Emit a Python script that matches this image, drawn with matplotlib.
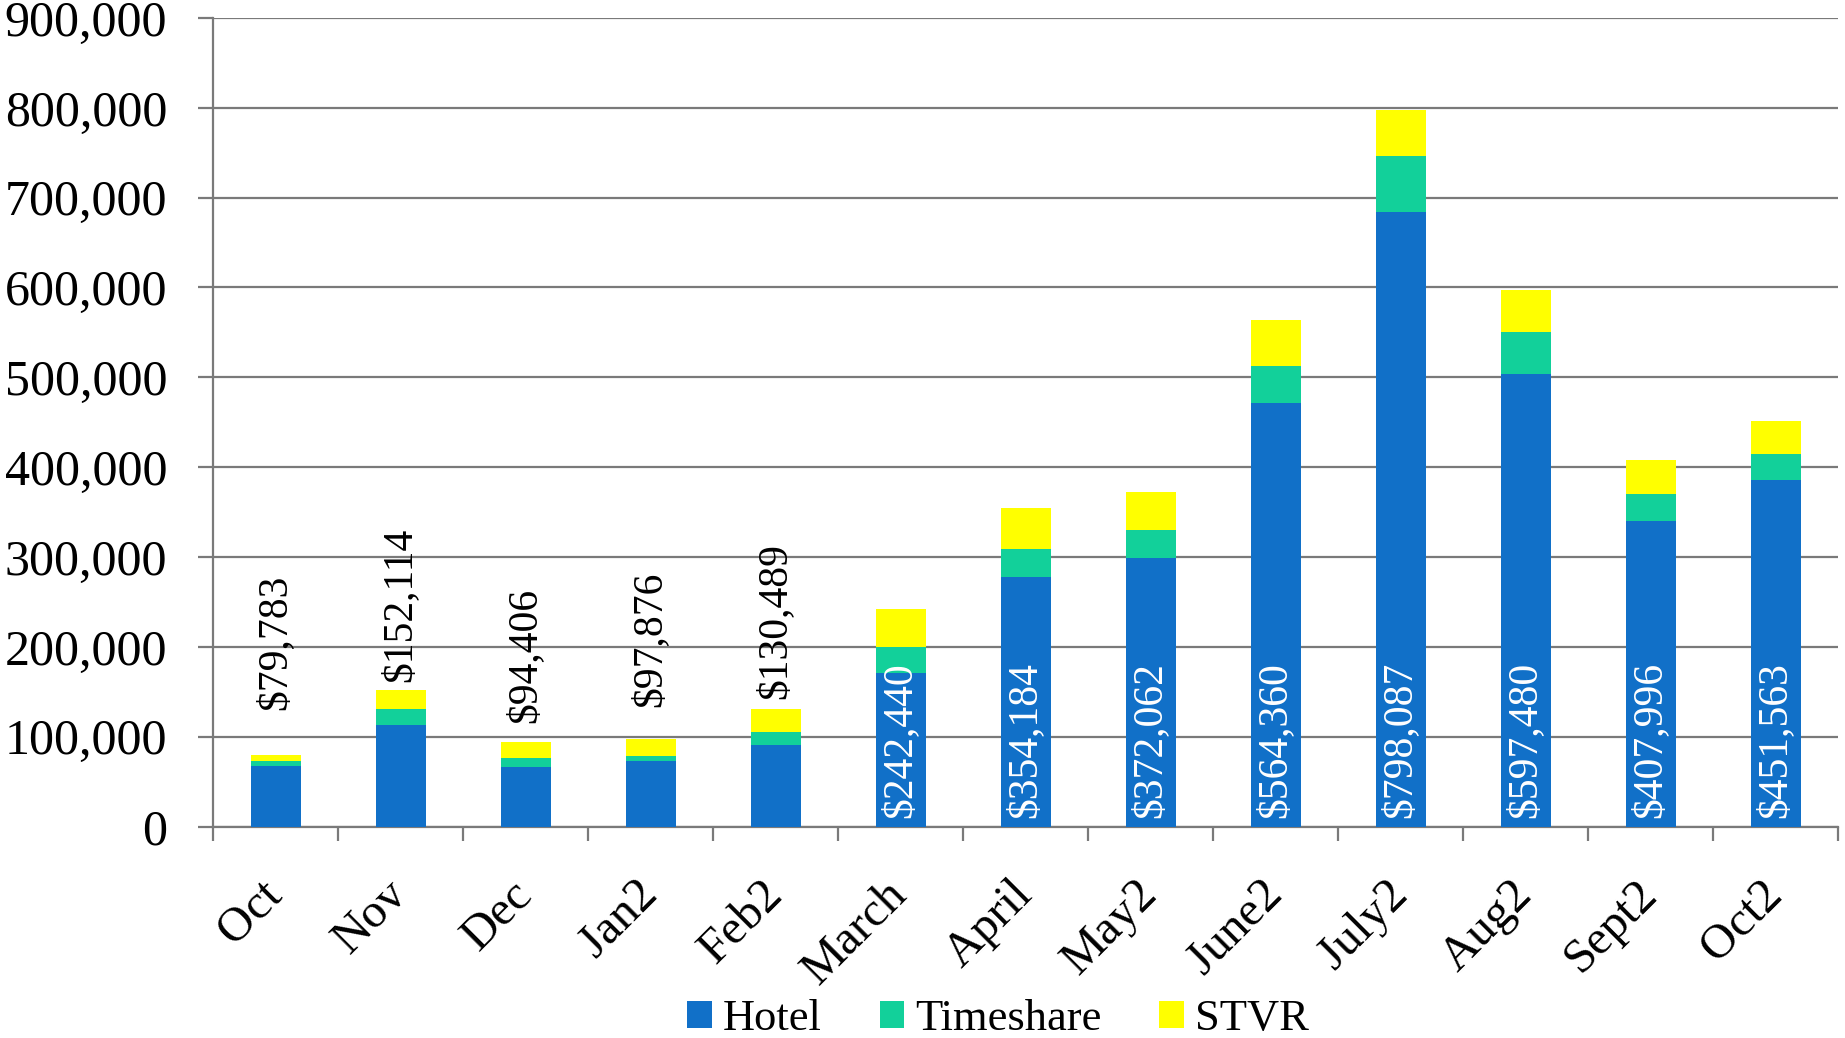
import numpy as np
import matplotlib
matplotlib.use("Agg")
import matplotlib.pyplot as plt
from matplotlib.ticker import FuncFormatter
from matplotlib.patches import Patch

plt.rcParams['font.family'] = ['Liberation Serif', 'DejaVu Serif']

months = ["Oct", "Nov", "Dec", "Jan2", "Feb2", "March", "April", "May2",
          "June2", "July2", "Aug2", "Sept2", "Oct2"]
hotel = [67000, 112600, 65800, 72500, 91100, 171000, 277600, 298400,
         471600, 683500, 503900, 340500, 385900]
timeshare = [6000, 18600, 10800, 6000, 14500, 29000, 30900, 31200,
             40700, 62800, 46800, 29800, 28900]
totals = [79783, 152114, 94406, 97876, 130489, 242440, 354184, 372062,
          564360, 798087, 597480, 407996, 451563]
stvr = [t - h - s for t, h, s in zip(totals, hotel, timeshare)]
total_labels = ["${:,}".format(t) for t in totals]

# label placement (pixels): gap above bar for small bars, offset from base for others
above_gap_px = [45, 8, 19, 32, 10]
inside_gap_px = 8

W, H = 1845, 1038
DPI = 100
fig = plt.figure(figsize=(W / DPI, H / DPI), dpi=DPI)
fig.patch.set_facecolor('white')
left, right, top, bottom = 213, 1838, 18, 826.5
ax = fig.add_axes([left / W, 1 - bottom / H, (right - left) / W, (bottom - top) / H])

c_hotel = '#1170C8'
c_ts = '#12D09A'
c_stvr = '#FFFF00'

x = np.arange(len(months))
bw = 0.40
hotel_a = np.array(hotel)
ts_a = np.array(timeshare)
stvr_a = np.array(stvr)
ax.bar(x, hotel_a, bw, color=c_hotel, zorder=3, linewidth=0)
ax.bar(x, ts_a, bw, bottom=hotel_a, color=c_ts, zorder=3, linewidth=0)
ax.bar(x, stvr_a, bw, bottom=hotel_a + ts_a, color=c_stvr, zorder=3, linewidth=0)

ax.set_xlim(-0.5, len(months) - 0.5)
ax.set_ylim(0, 900000)
ax.set_yticks(np.arange(0, 900001, 100000))
ax.yaxis.set_major_formatter(FuncFormatter(lambda v, p: "{:,}".format(int(v))))
ax.grid(axis='y', color='#7a7a7a', linewidth=1.6, zorder=0)
ax.set_axisbelow(True)

for s in ['top', 'right']:
    ax.spines[s].set_visible(False)
for s in ['left', 'bottom']:
    ax.spines[s].set_color('#7a7a7a')
    ax.spines[s].set_linewidth(1.6)

ax.tick_params(axis='y', direction='out', length=11, width=1.6, color='#7a7a7a',
               labelsize=36, pad=22)
ax.set_xticks(np.arange(-0.5, len(months), 1.0))
ax.set_xticklabels([])
ax.tick_params(axis='x', which='major', direction='out', length=10, width=1.6,
               color='#7a7a7a')
ax.set_xticks(x, minor=True)
ax.set_xticklabels(months, minor=True, rotation=45, ha='right',
                   rotation_mode='anchor', va='center', fontsize=35)
ax.tick_params(axis='x', which='minor', length=0, pad=44)

px2pt = 72.0 / DPI
for i, lab in enumerate(total_labels):
    if i < len(above_gap_px):
        ax.annotate(lab, xy=(x[i], totals[i]), xytext=(0, above_gap_px[i] * px2pt),
                    textcoords='offset points', rotation=90, ha='center',
                    va='bottom', fontsize=30, color='black', zorder=5)
    else:
        ax.annotate(lab, xy=(x[i], 0), xytext=(0, inside_gap_px * px2pt),
                    textcoords='offset points', rotation=90, ha='center',
                    va='bottom', fontsize=30, color='white', zorder=5)

handles = [Patch(facecolor=c_hotel, label='Hotel'),
           Patch(facecolor=c_ts, label='Timeshare'),
           Patch(facecolor=c_stvr, label='STVR')]
fig.legend(handles=handles, loc='center', bbox_to_anchor=(998 / W, 1 - 1019 / H),
           ncol=3, frameon=False, fontsize=32, handlelength=0.55,
           handleheight=0.55, handletextpad=0.25, columnspacing=1.3,
           borderpad=0.1)

fig.savefig('out.png', dpi=DPI)
